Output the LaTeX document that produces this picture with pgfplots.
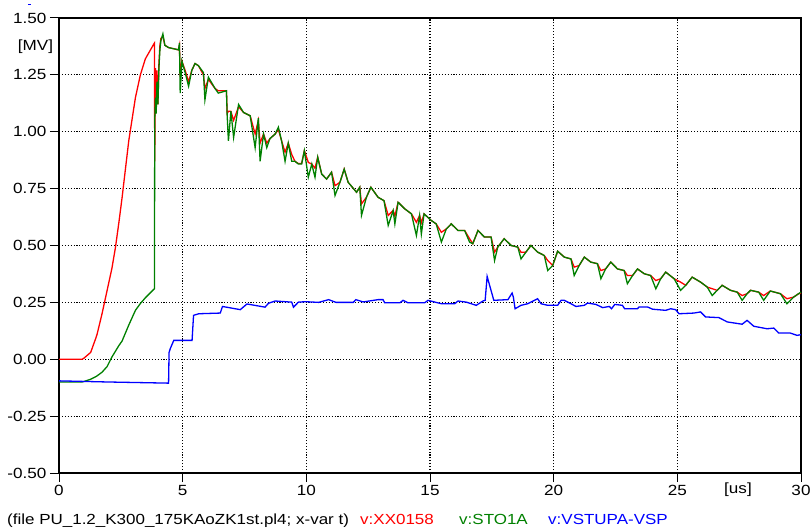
\documentclass[border=0pt]{standalone}
\usepackage{fontspec}
\setmainfont{Liberation Sans}[FakeStretch=1.16]
\usepackage{pgfplots}
\usepackage{pgfplotstable}
\pgfplotsset{compat=1.18}

\pgfplotstableread{
t red green
0 0 -0.10
0.5 0 -0.10
0.93 0.0 -0.10
1.0 0.004 -0.098
1.28 0.03 -0.088
1.48 0.09 -0.077
1.54 0.11 -0.073
1.74 0.20 -0.057
1.88 0.27 -0.04
1.94 0.30 -0.033
2.14 0.40 0.01
2.28 0.49 0.035
2.42 0.60 0.06
2.55 0.71 0.08
2.82 0.96 0.15
3.09 1.15 0.215
3.29 1.25 0.245
3.49 1.32 0.27
3.83 1.385 0.307
3.86 1.39 0.31
3.87 0.87 1.05
3.90 1.28 1.15
3.93 1.15 1.08
3.96 1.27 1.22
4.00 1.12 1.12
4.04 1.30 1.28
4.08 1.38 1.36
4.12 1.41 1.40
4.20 1.42 1.43
4.28 1.38 1.38
4.43 1.37 1.37
4.83 1.36 1.36
4.87 1.38 1.39
4.90 1.24 1.17
4.97 1.31 1.31
5.10 1.27 1.26
5.24 1.22 1.20
5.37 1.27 1.27
5.50 1.30 1.30
5.64 1.29 1.29
5.84 1.25 1.26
5.90 1.19 1.14
6.04 1.23 1.24
6.31 1.19 1.19
6.44 1.18 1.17
6.77 1.18 1.18
6.80 1.08 1.07
6.85 1.09 0.96
6.95 1.09 1.09
7.06 1.05 0.975
7.26 1.11 1.12
7.46 1.085 1.085
7.73 1.07 1.07
7.93 0.99 0.93
8.06 1.05 1.06
8.13 0.95 0.87
8.27 0.99 0.99
8.40 0.95 0.93
8.53 0.97 0.97
8.74 0.99 0.99
8.87 1.01 1.02
9.00 0.96 0.96
9.14 0.91 0.87
9.27 0.95 0.95
9.41 0.90 0.87
9.54 0.87 0.87
9.68 0.86 0.858
9.81 0.86 0.858
9.92 0.917 0.917
10.08 0.865 0.80
10.22 0.858 0.858
10.35 0.84 0.80
10.46 0.888 0.888
10.62 0.814 0.814
10.82 0.792 0.792
11.02 0.822 0.822
11.16 0.763 0.72
11.36 0.778 0.778
11.53 0.836 0.836
11.69 0.778 0.778
12.03 0.734 0.734
12.16 0.756 0.756
12.23 0.683 0.632
12.43 0.712 0.712
12.61 0.756 0.756
12.90 0.712 0.712
13.14 0.697 0.697
13.31 0.632 0.588
13.51 0.654 0.654
13.58 0.63 0.595
13.71 0.69 0.69
13.98 0.661 0.661
14.25 0.639 0.639
14.45 0.602 0.544
14.58 0.632 0.632
14.65 0.60 0.55
14.76 0.639 0.639
15.05 0.61 0.61
15.25 0.595 0.595
15.46 0.558 0.515
15.66 0.573 0.573
15.86 0.595 0.595
16.13 0.566 0.566
16.40 0.566 0.566
16.60 0.53 0.515
16.73 0.508 0.508
16.94 0.566 0.566
17.20 0.537 0.537
17.47 0.537 0.537
17.61 0.471 0.434
17.74 0.493 0.493
18.00 0.53 0.53
18.28 0.50 0.50
18.55 0.493 0.493
18.68 0.47 0.441
18.88 0.471 0.471
19.08 0.50 0.50
19.35 0.471 0.471
19.62 0.456 0.456
19.76 0.434 0.39
19.96 0.412 0.412
20.16 0.475 0.475
20.43 0.449 0.449
20.70 0.441 0.441
20.83 0.405 0.368
21.03 0.412 0.412
21.24 0.449 0.449
21.50 0.427 0.427
21.77 0.42 0.42
21.91 0.39 0.354
22.10 0.397 0.397
22.31 0.427 0.427
22.58 0.397 0.397
22.85 0.39 0.39
22.98 0.368 0.332
23.19 0.368 0.368
23.39 0.397 0.397
23.66 0.376 0.376
23.92 0.368 0.368
24.13 0.346 0.31
24.33 0.354 0.354
24.53 0.383 0.383
24.87 0.354 0.354
25.13 0.339 0.303
25.34 0.325 0.325
25.60 0.361 0.361
25.94 0.339 0.339
26.21 0.317 0.317
26.41 0.31 0.28
26.61 0.303 0.303
26.81 0.325 0.325
27.15 0.303 0.303
27.42 0.295 0.295
27.62 0.28 0.259
27.82 0.288 0.288
27.96 0.303 0.303
28.29 0.295 0.295
28.49 0.28 0.259
28.76 0.30 0.30
29.17 0.288 0.288
29.43 0.266 0.244
29.70 0.273 0.273
29.90 0.288 0.288
30.00 0.29 0.295
}\mainTable

\pgfplotstableread{
t v
0 -0.095
2 -0.10
4.43 -0.105
4.45 0.03
4.50 0.047
4.64 0.083
5.38 0.083
5.44 0.193
5.65 0.20
6.52 0.203
6.61 0.232
7.33 0.218
7.60 0.243
8.33 0.229
8.47 0.246
8.74 0.256
9.41 0.251
9.48 0.229
9.68 0.251
9.95 0.253
10.5 0.25
10.9 0.262
11.2 0.25
11.9 0.25
12.0 0.262
12.3 0.252
12.9 0.262
13.1 0.262
13.17 0.248
13.78 0.248
13.91 0.259
14.11 0.248
14.78 0.248
14.92 0.259
15.46 0.244
16.0 0.244
16.13 0.256
16.47 0.251
16.87 0.237
17.14 0.256
17.23 0.259
17.31 0.364
17.58 0.259
18.15 0.262
18.32 0.291
18.37 0.273
18.44 0.222
18.68 0.237
18.95 0.244
19.35 0.266
19.49 0.244
19.76 0.237
20.16 0.237
20.30 0.259
20.43 0.259
20.70 0.244
20.90 0.232
21.24 0.237
21.37 0.247
21.71 0.241
21.98 0.227
22.25 0.232
22.34 0.222
22.47 0.241
22.78 0.237
22.87 0.222
23.39 0.222
23.45 0.23
23.79 0.23
24.00 0.22
24.53 0.215
24.73 0.222
24.93 0.218
25.07 0.20
25.67 0.203
25.94 0.208
26.14 0.186
26.68 0.183
27.02 0.164
27.62 0.154
27.82 0.171
28.09 0.145
28.63 0.134
28.90 0.137
29.10 0.115
29.57 0.115
29.84 0.105
30 0.108
}\blueTable

\begin{document}
\begin{tikzpicture}
\path[use as bounding box] (0bp,0bp) rectangle (810bp,531bp);
\begin{axis}[
  at={(59bp,58bp)}, anchor=south west,
  width=742bp, height=455bp, scale only axis,
  xmin=0, xmax=30, ymin=-0.5, ymax=1.5,
  xtick={0,5,10,15,20,25,30},
  ytick={-0.5,-0.25,0,0.25,0.5,0.75,1,1.25,1.5},
  yticklabel style={/pgf/number format/.cd, fixed, fixed zerofill, precision=2},
  /pgf/number format/assume math mode=true,
  ticklabel style={font=\fontsize{14.8}{16}\selectfont},
  tick align=outside, tick pos=left,
  major tick length=9bp,
  every tick/.style={black, line width=1bp},
  axis line style={black, line width=1.3bp},
  grid=major,
  major grid style={black, line width=1.1bp, dash pattern=on 1.1bp off 1.8bp},
  clip=true,
]
\addplot[red, line width=1.3bp] table[x=t, y=red] {\mainTable};
\addplot[green!50!black, line width=1.3bp] table[x=t, y=green] {\mainTable};
\addplot[blue, line width=1.3bp] table[x=t, y=v] {\blueTable};
\end{axis}
\node[font=\fontsize{14.8}{16}\selectfont] at (35.5bp,484bp) {[MV]};
\node[font=\fontsize{14.8}{16}\selectfont] at (738bp,41bp) {[us]};
\draw[blue, line width=1bp] (28bp,526bp) -- (31bp,526bp);
\begin{scope}[every node/.style={font=\fontsize{14.7}{16}\selectfont, inner sep=0pt, anchor=base west}]
\node at (7bp,7bp) {(file PU\_1.2\_K300\_175KAoZK1st.pl4; x-var t)};
\node[text=red] at (360bp,7bp) {v:XX0158};
\node[text=green!50!black] at (459bp,7bp) {v:STO1A};
\node[text=blue] at (548bp,7bp) {v:VSTUPA-VSP};
\end{scope}
\end{tikzpicture}
\end{document}
